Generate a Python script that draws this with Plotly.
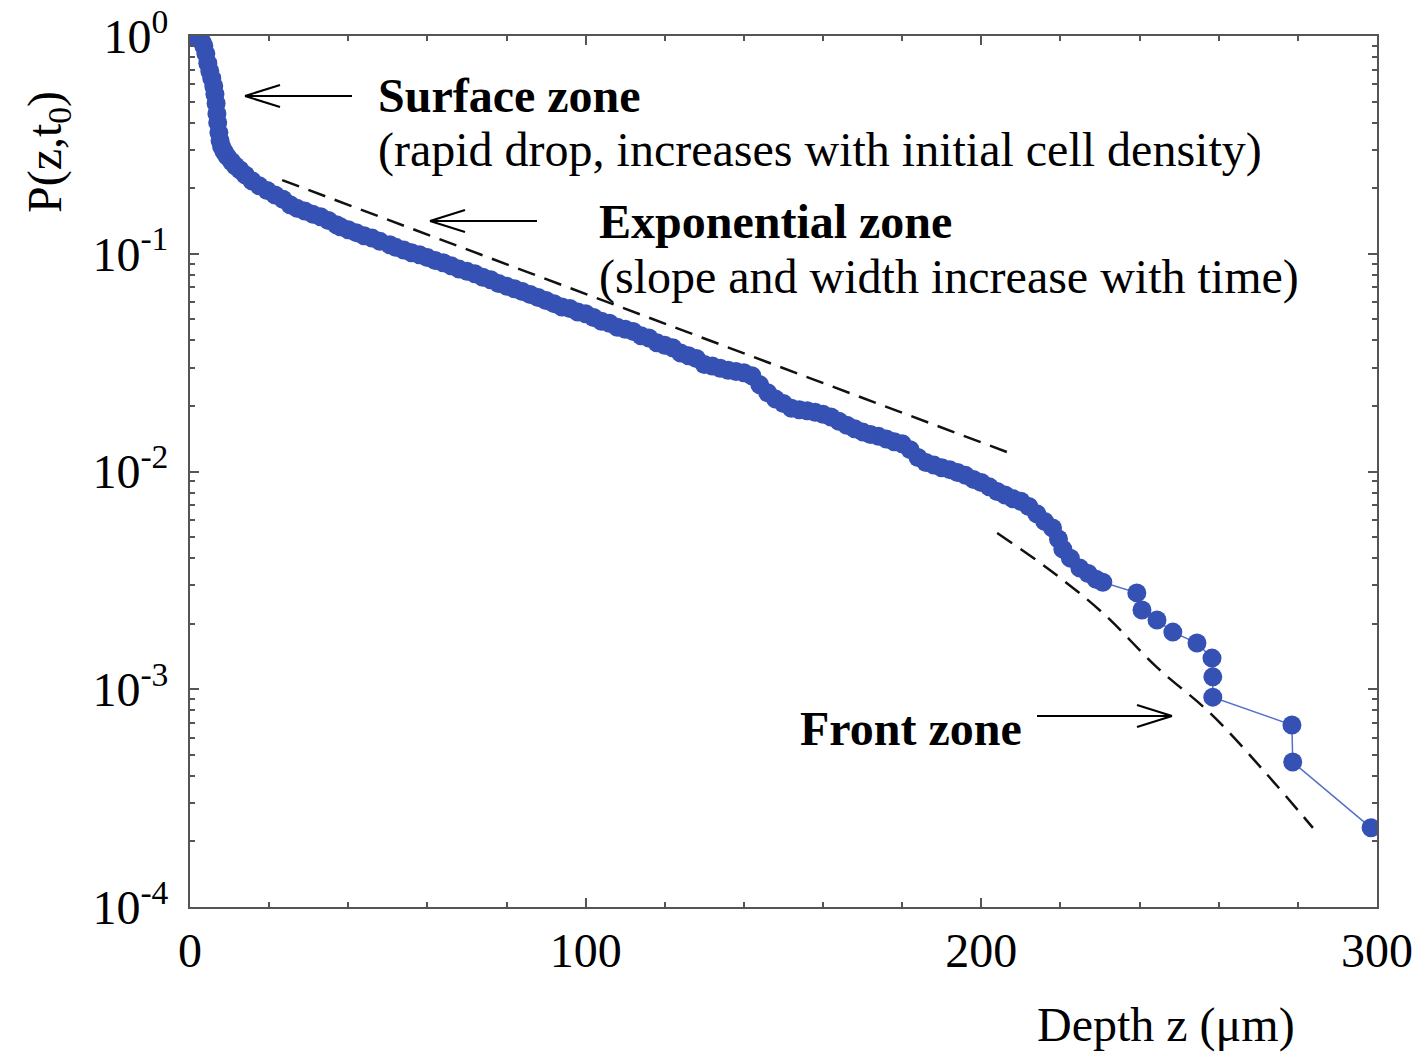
import plotly.graph_objects as go

# ---------------- data ----------------
depth_um = [0, 0.5, 1, 1.5, 2, 2.5, 3, 3.5, 4, 4.5, 5, 5.5, 6, 6.3, 6.6, 6.8, 7.0, 7.3, 7.6, 8,
            8.6, 9.4, 10.5, 11.5, 12.6, 14, 15.7, 17.5, 19.5, 21.5, 23.5, 25.3, 27, 29, 31, 33, 35, 37,
            38, 40, 42, 44, 46, 48, 50.5, 52, 54, 56, 58, 60, 62, 64, 66, 68, 70, 72, 74, 76, 78,
            80, 82, 84, 86, 88, 90, 92, 94, 96, 98, 100, 102, 104, 106, 108, 110, 112, 114, 116,
            118, 120, 122, 124, 126, 128, 130, 132, 134, 136, 138, 140, 142, 144, 146, 148, 150,
            152, 154, 156, 158, 160, 162, 164, 166, 168, 170, 172, 174, 176, 178, 180, 182, 184,
            186, 188, 190, 192, 194, 196, 198, 200, 202, 204, 206, 208, 210, 212, 214, 216, 218,
            219.5, 220.6, 222.5, 224.9, 227, 229, 230.7, 239.3, 240.6, 244.4, 248.4, 254.5,
            258.3, 258.5, 258.5, 278.5, 278.7, 298.5]
prob = [1.00, 1.00, 1.00, 1.00, 0.99, 0.97, 0.94, 0.90, 0.83, 0.75, 0.69, 0.64, 0.59, 0.54, 0.49,
        0.44, 0.40, 0.36, 0.33, 0.31,
        0.295, 0.28, 0.265, 0.253, 0.243, 0.23, 0.216, 0.205, 0.195, 0.186, 0.178, 0.168, 0.162,
        0.157, 0.152, 0.148, 0.142, 0.136,
        0.133, 0.129, 0.125, 0.121, 0.118, 0.114, 0.110, 0.107, 0.104, 0.101, 0.099, 0.096, 0.093,
        0.091, 0.088, 0.085, 0.083, 0.081, 0.078, 0.076, 0.073,
        0.071, 0.069, 0.067, 0.065, 0.063, 0.061, 0.059, 0.057, 0.056, 0.054, 0.053, 0.051, 0.049,
        0.048, 0.046, 0.045, 0.044, 0.042, 0.041,
        0.039, 0.038, 0.037, 0.035, 0.034, 0.033, 0.031, 0.0305, 0.0298, 0.0292, 0.0288, 0.0284,
        0.0275, 0.025, 0.023, 0.0215, 0.0205,
        0.0195, 0.0192, 0.0190, 0.0187, 0.0183, 0.0178, 0.0170, 0.0163, 0.0157, 0.0152, 0.0148,
        0.0145, 0.0141, 0.0137, 0.0134, 0.0126, 0.0116,
        0.0110, 0.0107, 0.0104, 0.0102, 0.0099, 0.0096, 0.0092, 0.0089, 0.0085, 0.0081, 0.0078,
        0.0075, 0.0073, 0.0069, 0.0064, 0.0059, 0.0055,
        0.0049, 0.0044, 0.0040, 0.0036, 0.0034, 0.0032, 0.0031, 0.00277, 0.00231, 0.00208,
        0.00183, 0.00163,
        0.00139, 0.00114, 0.00092, 0.000685, 0.000463, 0.000231]

# dashed guide lines
exp_fit_z = [23.3, 208.5]
exp_fit_p = [0.218, 0.0119]
front_fit_z = [204, 217.3, 230.7, 244.4, 257.8, 271.2, 283.8]
front_fit_p = [0.00522, 0.00353, 0.00224, 0.00126, 0.000778, 0.000426, 0.000231]

x_tickvals = [0, 100, 200, 300]
y_tickvals = [1e-4, 1e-3, 1e-2, 1e-1, 1]
y_ticktext = ["10<sup>-4</sup>", "10<sup>-3</sup>", "10<sup>-2</sup>", "10<sup>-1</sup>", "10<sup>0</sup>"]
y_minor = [m * 10 ** e for e in range(-4, 0) for m in range(2, 10)]

# ---------------- layout geometry ----------------
W, H = 1419, 1054
L, R, T, B = 190, 1377, 36, 907
FONT = "Liberation Serif"


def px(x):
    return (x - L) / (R - L)


def py(y):
    return (B - y) / (B - T)


fig = go.Figure()

fig.add_trace(go.Scatter(x=exp_fit_z, y=exp_fit_p, mode="lines",
                         line=dict(color="#111111", width=2.5, dash="18px,10px"),
                         showlegend=False, hoverinfo="skip"))
fig.add_trace(go.Scatter(x=front_fit_z, y=front_fit_p, mode="lines",
                         line=dict(color="#111111", width=2.5, dash="18px,10px", shape="spline"),
                         showlegend=False, hoverinfo="skip"))
fig.add_trace(go.Scatter(x=depth_um, y=prob, mode="lines+markers",
                         line=dict(color="#5571c6", width=1.5),
                         marker=dict(size=19, color="#3551b3", line=dict(width=0)),
                         showlegend=False))

axis_common = dict(showline=True, linecolor="#555555", linewidth=2, mirror="ticks",
                   ticks="inside", ticklen=9, tickwidth=1.5, tickcolor="#555555",
                   showgrid=False, zeroline=False, automargin=False,
                   tickfont=dict(family=FONT, size=48, color="black"))

fig.update_xaxes(range=[0, 300], tickvals=x_tickvals, ticklabelstandoff=0,
                 minor=dict(ticks="inside", ticklen=5, dtick=20, tickcolor="#555555", tickwidth=1.5,
                            showgrid=False),
                 **axis_common)
fig.update_yaxes(type="log", range=[-4, 0], tickvals=y_tickvals, ticktext=y_ticktext,
                 ticklabelstandoff=10,
                 minor=dict(ticks="inside", ticklen=5, tickvals=y_minor, tickcolor="#555555",
                            tickwidth=1.5, showgrid=False),
                 **axis_common)

annotations = [
    dict(text="<b>Surface zone</b>", x=px(376), y=py(95), xanchor="left", yanchor="middle"),
    dict(text="(rapid drop, increases with initial cell density)", x=px(376), y=py(150),
         xanchor="left", yanchor="middle"),
    dict(text="<b>Exponential zone</b>", x=px(597), y=py(222), xanchor="left", yanchor="middle"),
    dict(text="(slope and width increase with time)", x=px(597), y=py(277),
         xanchor="left", yanchor="middle"),
    dict(text="<b>Front zone</b>", x=px(798), y=py(728), xanchor="left", yanchor="middle"),
    dict(text="Depth z (\u03bcm)", x=px(1035), y=py(1025), xanchor="left", yanchor="middle"),
    dict(text="P(z,t<sub>0</sub>)", x=px(48), y=py(152), xanchor="center", yanchor="middle",
         textangle=-90),
]
for a in annotations:
    a.update(xref="paper", yref="paper", showarrow=False,
             font=dict(family=FONT, size=48, color="black"))

shapes = []


def arrow(x0, y0, x1, y1, arm_dx, arm_dy):
    # shaft from (x0,y0) to tip (x1,y1); open V head
    seg = [(x0, y0, x1, y1), (x1, y1, x1 + arm_dx, y1 - arm_dy), (x1, y1, x1 + arm_dx, y1 + arm_dy)]
    for a, b, c, d in seg:
        shapes.append(dict(type="line", xref="paper", yref="paper",
                           x0=px(a), y0=py(b), x1=px(c), y1=py(d),
                           line=dict(color="black", width=2)))


arrow(352, 96, 245, 96, 35, 11)
arrow(537, 221, 430, 221, 35, 11)
arrow(1037, 716, 1172, 716, -35, 11)

fig.update_layout(width=W, height=H,
                  margin=dict(l=L, r=W - R, t=T, b=H - B, pad=0, autoexpand=False),
                  plot_bgcolor="white", paper_bgcolor="white",
                  annotations=annotations, shapes=shapes,
                  font=dict(family=FONT))

fig.write_html("out.html")
